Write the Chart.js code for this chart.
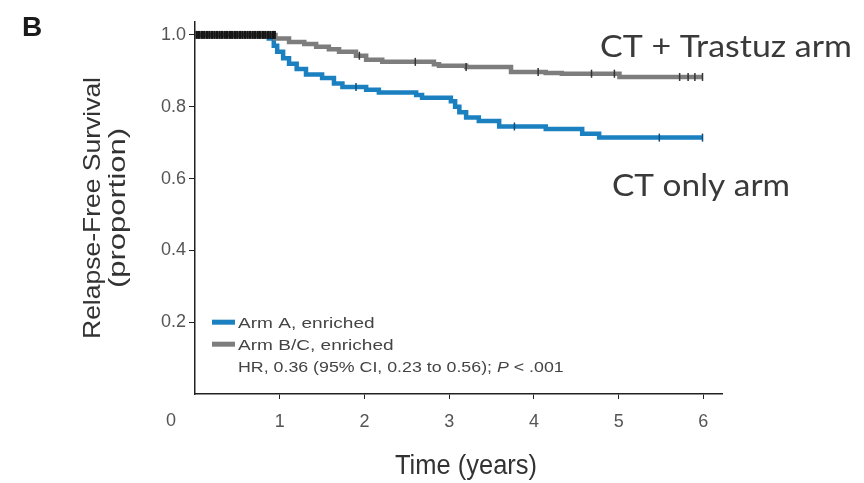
<!DOCTYPE html>
<html>
<head>
<meta charset="utf-8">
<script src="https://cdn.jsdelivr.net/npm/chart.js@4.4.1/dist/chart.umd.min.js"></script>
<style>
  html, body { margin: 0; padding: 0; background: #fff; }
</style>
</head>
<body>
<canvas id="km" width="864" height="483"></canvas>
<script>
// Kaplan-Meier steps (time in years, survival proportion)
const armATimes  = [0, 0.87, 0.93, 0.97, 1.04, 1.11, 1.20, 1.31, 1.50, 1.64, 1.74, 2.02, 2.17, 2.61, 2.68, 3.02, 3.07, 3.12, 3.20, 3.35, 3.59, 4.14, 4.57, 4.77, 5.99];
const armAValues = [1.0, 0.99, 0.97, 0.953, 0.935, 0.92, 0.905, 0.89, 0.88, 0.865, 0.855, 0.847, 0.84, 0.833, 0.825, 0.815, 0.80, 0.785, 0.77, 0.76, 0.745, 0.738, 0.725, 0.714, 0.714];

const armBCTimes  = [0, 0.95, 1.11, 1.29, 1.43, 1.58, 1.70, 1.90, 2.02, 2.21, 2.82, 2.88, 3.20, 3.73, 4.14, 4.33, 5.01, 5.99];
const armBCValues = [1.0, 0.99, 0.98, 0.975, 0.967, 0.96, 0.953, 0.942, 0.931, 0.925, 0.918, 0.914, 0.911, 0.897, 0.894, 0.892, 0.883, 0.883];

// censoring ticks
const earlyCensor = [0.02, 0.05, 0.08, 0.11, 0.14, 0.17, 0.2, 0.23, 0.26, 0.29, 0.32, 0.35, 0.38, 0.41, 0.44, 0.47, 0.5, 0.53, 0.56, 0.59, 0.62, 0.65, 0.68, 0.71, 0.74, 0.77, 0.8, 0.83, 0.86, 0.89, 0.92, 0.94];
const armACensor  = [1.90, 3.77, 5.48, 5.99];
const armBCCensor = [1.94, 2.60, 3.20, 4.05, 4.68, 4.95, 5.72, 5.82, 5.90, 5.99];

const xTicks = [1, 2, 3, 4, 5, 6];
const yTicks = [0.2, 0.4, 0.6, 0.8, 1.0];

const legendLabels = ["Arm A, enriched", "Arm B/C, enriched"];
const hrText = ["HR, 0.36 (95% CI, 0.23 to 0.56); ", "P", " < .001"];

const BLUE = "#1b80c0";
const GRAY = "#7d7d7d";

function survAt(times, values, t) {
  let v = values[0];
  for (let i = 0; i < times.length; i++) {
    if (times[i] <= t) v = values[i];
  }
  return v;
}

function toPoints(times, values) {
  return times.map((t, i) => ({ x: t, y: values[i] }));
}

function censorPoints(ticks, times, values) {
  return ticks.map((t) => ({ x: t, y: survAt(times, values, t) }));
}

// draw text squeezed/stretched to a given width
function fitText(ctx, text, x, y, width, font) {
  ctx.font = font;
  const w = ctx.measureText(text).width;
  ctx.save();
  ctx.translate(x, y);
  ctx.scale(width / w, 1);
  ctx.fillText(text, 0, 0);
  ctx.restore();
}

const annotations = {
  id: "annotations",
  afterDraw(chart) {
    const ctx = chart.ctx;
    const area = chart.chartArea;
    const xs = chart.scales.x;
    const ys = chart.scales.y;
    ctx.save();
    ctx.textBaseline = "alphabetic";

    // panel letter
    ctx.fillStyle = "#1a1a1a";
    ctx.textAlign = "left";
    ctx.font = "bold 28px 'Liberation Sans', Arial, sans-serif";
    ctx.fillText("B", 22, 36);

    // y title, two lines
    ctx.fillStyle = "#333";
    ctx.textAlign = "center";
    ctx.save();
    ctx.rotate(-Math.PI / 2);
    fitText(ctx, "Relapse-Free Survival", -208, 100, 262, "24px 'Liberation Sans', Arial, sans-serif");
    fitText(ctx, "(proportion)", -208, 125, 160, "24px 'Liberation Sans', Arial, sans-serif");
    ctx.restore();

    // x title
    fitText(ctx, "Time (years)", 466, 474, 142, "27px 'Liberation Sans', Arial, sans-serif");

    // shared origin label
    ctx.fillStyle = "#555";
    ctx.font = "18px 'Liberation Sans', Arial, sans-serif";
    ctx.fillText("0", xs.getPixelForValue(0) - 24, 426);

    // arm annotations
    ctx.fillStyle = "#3a3a3a";
    ctx.textAlign = "left";
    fitText(ctx, "CT + Trastuz arm", 600, 57, 252, "31px Lato, 'Open Sans', sans-serif");
    fitText(ctx, "CT only arm", 612, 196, 178, "31px Lato, 'Open Sans', sans-serif");

    // legend inside plot
    const lx = area.left + 17;
    const y0 = ys.getPixelForValue(0.2);
    const rows = [y0, y0 + 22, y0 + 44];
    const colors = [BLUE, GRAY];
    ctx.lineWidth = 5;
    colors.forEach((c, i) => {
      ctx.strokeStyle = c;
      ctx.beginPath();
      ctx.moveTo(lx, rows[i]);
      ctx.lineTo(lx + 23, rows[i]);
      ctx.stroke();
    });
    ctx.fillStyle = "#444";
    const sx = 1.27;
    const legFont = "15px 'Liberation Sans', Arial, sans-serif";
    legendLabels.forEach((lab, i) => {
      ctx.save();
      ctx.translate(lx + 26, rows[i] + 6);
      ctx.scale(sx, 1);
      ctx.font = legFont;
      ctx.fillText(lab, 0, 0);
      ctx.restore();
    });
    ctx.save();
    ctx.translate(lx + 26, rows[2] + 6);
    ctx.scale(sx, 1);
    let off = 0;
    hrText.forEach((part, i) => {
      ctx.font = (i === 1 ? "italic " : "") + "14px 'Liberation Sans', Arial, sans-serif";
      ctx.fillText(part, off, 0);
      off += ctx.measureText(part).width;
    });
    ctx.restore();

    ctx.restore();
  },
};

const censorStyle = {
  showLine: false,
  pointStyle: "line",
  rotation: 90,
  pointRadius: 4,
  pointBorderWidth: 1.5,
  pointHoverRadius: 4,
};

new Chart(document.getElementById("km"), {
  type: "line",
  data: {
    datasets: [
      Object.assign({ label: "censor early", data: censorPoints(earlyCensor, armBCTimes, armBCValues), borderColor: "#151515" }, censorStyle, { pointBorderWidth: 2.5 }),
      Object.assign({ label: "censor A", data: censorPoints(armACensor, armATimes, armAValues), borderColor: "#0d4f7a" }, censorStyle),
      Object.assign({ label: "censor B/C", data: censorPoints(armBCCensor, armBCTimes, armBCValues), borderColor: "#333" }, censorStyle),
      {
        label: legendLabels[1],
        data: toPoints(armBCTimes, armBCValues),
        borderColor: GRAY,
        borderWidth: 4.5,
        stepped: true,
        pointRadius: 0,
      },
      {
        label: legendLabels[0],
        data: toPoints(armATimes, armAValues),
        borderColor: BLUE,
        borderWidth: 4.5,
        stepped: true,
        pointRadius: 0,
      },
    ],
  },
  options: {
    responsive: false,
    animation: false,
    layout: { padding: { top: 22, right: 142, left: 0, bottom: 0 } },
    plugins: { legend: { display: false }, tooltip: { enabled: false } },
    scales: {
      x: {
        type: "linear",
        min: 0,
        max: 6.22,
        afterBuildTicks: (s) => { s.ticks = xTicks.map((v) => ({ value: v })); },
        afterFit: (s) => { s.height = 89; },
        grid: { drawOnChartArea: false, drawTicks: true, tickLength: 5, color: "#222", lineWidth: 1 },
        border: { display: true, color: "#222", width: 1.5 },
        ticks: {
          padding: 12,
          color: "#555",
          font: { family: "'Liberation Sans', Arial, sans-serif", size: 18 },
          callback: (v) => String(v),
          maxRotation: 0,
        },
      },
      y: {
        type: "linear",
        min: 0,
        max: 1.036,
        afterBuildTicks: (s) => { s.ticks = yTicks.map((v) => ({ value: v })); },
        afterFit: (s) => { s.width = 195; },
        grid: { drawOnChartArea: false, drawTicks: true, tickLength: 6, color: "#222", lineWidth: 1 },
        border: { display: true, color: "#222", width: 1.5 },
        ticks: {
          padding: 3,
          color: "#555",
          font: { family: "'Liberation Sans', Arial, sans-serif", size: 18 },
          callback: (v) => v.toFixed(1),
        },
      },
    },
  },
  plugins: [annotations],
});
</script>
</body>
</html>
